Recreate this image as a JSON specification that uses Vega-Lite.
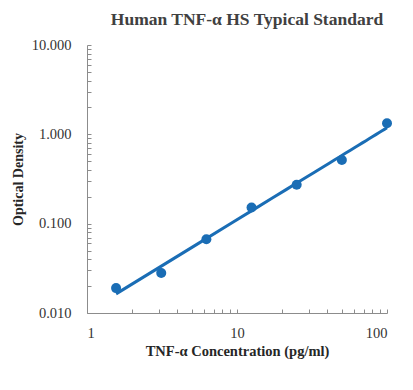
{
  "$schema": "https://vega.github.io/schema/vega-lite/v6.json",
  "width": 300,
  "height": 268,
  "autosize": "none",
  "padding": {"left": 87, "top": 45, "right": 26, "bottom": 77},
  "title": {"text": "Human TNF-α HS Typical Standard", "font": "Liberation Serif", "fontSize": 17.5, "fontWeight": "bold", "color": "#404040", "anchor": "middle", "dx": 10, "offset": 9},
  "config": {
    "view": {"stroke": null},
    "axis": {"grid": false, "domainColor": "#8c8c8c", "tickColor": "#8c8c8c", "tickSize": -4, "labelFont": "Liberation Serif", "labelFontSize": 14.5, "labelColor": "#333333", "titleFont": "Liberation Serif", "titleFontSize": 14.5, "titleFontWeight": "bold", "titleColor": "#262626", "labelOverlap": false}
  },
  "data": {"values": [
    {"conc": 1.5625, "od": 0.019},
    {"conc": 3.125, "od": 0.028},
    {"conc": 6.25, "od": 0.067},
    {"conc": 12.5, "od": 0.152},
    {"conc": 25, "od": 0.273},
    {"conc": 50, "od": 0.516},
    {"conc": 100, "od": 1.33}
  ]},
  "encoding": {
    "x": {"field": "conc", "type": "quantitative", "scale": {"type": "log", "domain": [1, 100]},
      "axis": {"title": "TNF-α Concentration (pg/ml)", "values": [1,2,3,4,5,6,7,8,9,10,20,30,40,50,60,70,80,90,100], "format": ".0f", "labelExpr": "indexof([1,10,100], datum.value) >= 0 ? datum.label : ''", "labelPadding": 17, "titlePadding": 5}},
    "y": {"field": "od", "type": "quantitative", "scale": {"type": "log", "domain": [0.01, 10]},
      "axis": {"title": "Optical Density", "titleFontSize": 14, "values": [0.01,0.02,0.03,0.04,0.05,0.06,0.07,0.08,0.09,0.1,0.2,0.3,0.4,0.5,0.6,0.7,0.8,0.9,1,2,3,4,5,6,7,8,9,10], "format": ".3f", "labelExpr": "indexof([0.01,0.1,1,10], datum.value) >= 0 ? datum.label : ''", "labelPadding": 20, "titlePadding": 6}}
  },
  "layer": [
    {"transform": [{"regression": "od", "on": "conc", "method": "pow"}],
     "mark": {"type": "line", "color": "#1A6DB5", "strokeWidth": 3}},
    {"mark": {"type": "circle", "size": 100, "opacity": 1, "color": "#1A6DB5"}}
  ]
}
